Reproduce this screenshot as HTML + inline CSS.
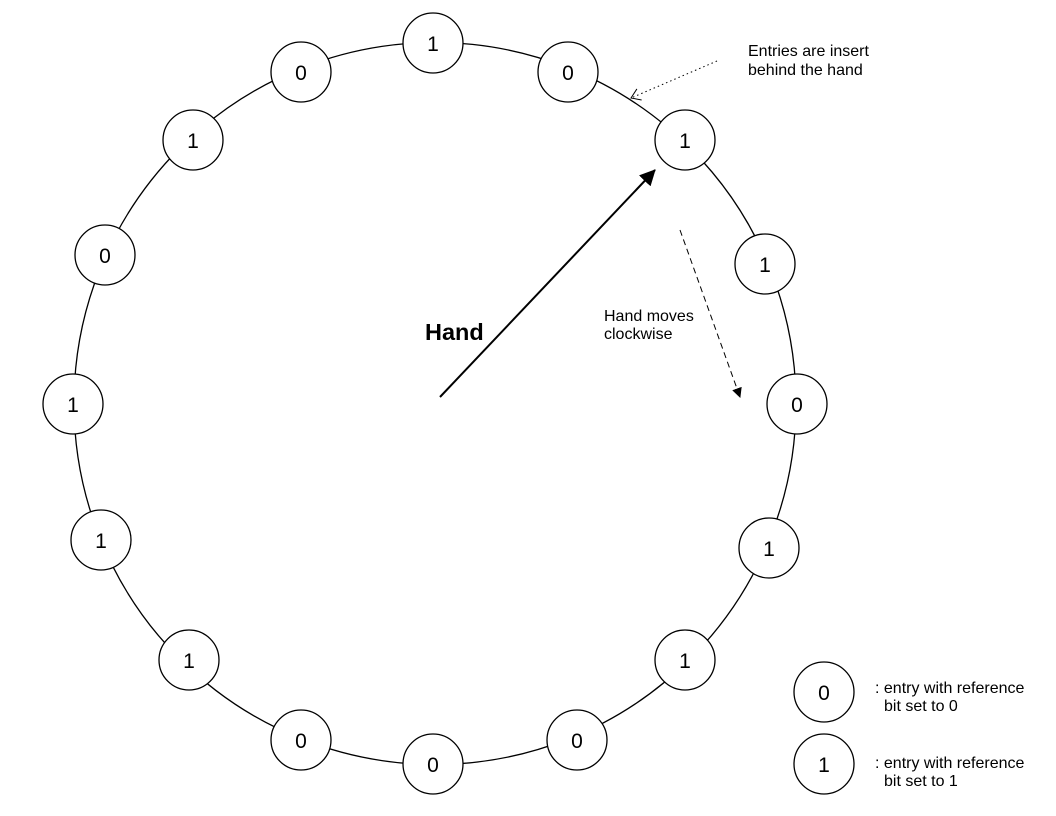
<!DOCTYPE html>
<html><head><meta charset="utf-8"><style>
html,body{margin:0;padding:0;background:#fff;}
svg{display:block;font-family:"Liberation Sans",sans-serif;}
</style></head><body>
<svg width="1056" height="816" viewBox="0 0 1056 816" xmlns="http://www.w3.org/2000/svg">
<defs>
<marker id="tri" markerWidth="10" markerHeight="10" refX="9" refY="5" orient="auto" markerUnits="userSpaceOnUse"><path d="M0,0 L10,5 L0,10 Z" fill="#000"/></marker>
<marker id="big" markerWidth="16" markerHeight="16" refX="15" refY="8" orient="auto" markerUnits="userSpaceOnUse"><path d="M0,0 L16,8 L0,16 Z" fill="#000"/></marker>
<marker id="open" markerWidth="12" markerHeight="14" refX="10" refY="7" orient="auto" markerUnits="userSpaceOnUse"><path d="M1,1 L10,7 L1,13" fill="none" stroke="#000" stroke-width="1"/></marker>
</defs>
<circle cx="435" cy="403.5" r="361" fill="none" stroke="#000" stroke-width="1.3"/>
<g fill="#fff" stroke="#000" stroke-width="1.3">
<circle cx="433" cy="43" r="30"/><circle cx="301" cy="72" r="30"/><circle cx="568" cy="72" r="30"/>
<circle cx="193" cy="140" r="30"/><circle cx="685" cy="140" r="30"/><circle cx="105" cy="255" r="30"/>
<circle cx="765" cy="264" r="30"/><circle cx="73" cy="404" r="30"/><circle cx="797" cy="404" r="30"/>
<circle cx="101" cy="540" r="30"/><circle cx="769" cy="548" r="30"/><circle cx="189" cy="660" r="30"/>
<circle cx="685" cy="660" r="30"/><circle cx="301" cy="740" r="30"/><circle cx="577" cy="740" r="30"/>
<circle cx="433" cy="764" r="30"/>
<circle cx="824" cy="692" r="30"/><circle cx="824" cy="764" r="30"/>
</g>
<g font-size="21" text-anchor="middle" fill="#000">
<text x="433" y="51">1</text><text x="301" y="80">0</text><text x="568" y="80">0</text>
<text x="193" y="148">1</text><text x="685" y="148">1</text><text x="105" y="263">0</text>
<text x="765" y="272">1</text><text x="73" y="412">1</text><text x="797" y="412">0</text>
<text x="101" y="548">1</text><text x="769" y="556">1</text><text x="189" y="668">1</text>
<text x="685" y="668">1</text><text x="301" y="748">0</text><text x="577" y="748">0</text>
<text x="433" y="772">0</text>
<text x="824" y="700">0</text><text x="824" y="772">1</text>
</g>
<line x1="440" y1="397" x2="655" y2="170" stroke="#000" stroke-width="2" marker-end="url(#big)"/>
<text x="425" y="340" font-size="23.5" font-weight="bold">Hand</text>
<line x1="680" y1="230" x2="740" y2="397" stroke="#000" stroke-width="1" stroke-dasharray="6,4" marker-end="url(#tri)"/>
<line x1="717" y1="61" x2="631" y2="98" stroke="#000" stroke-width="1" stroke-dasharray="1.5,3" marker-end="url(#open)"/>
<g font-size="16" fill="#000">
<text x="748" y="56">Entries are insert</text><text x="748" y="75">behind the hand</text>
<text x="604" y="321">Hand moves</text><text x="604" y="339">clockwise</text>
<text x="875" y="693">: entry with reference</text><text x="884" y="711">bit set to 0</text>
<text x="875" y="768">: entry with reference</text><text x="884" y="786">bit set to 1</text>
</g>
</svg>
</body></html>
